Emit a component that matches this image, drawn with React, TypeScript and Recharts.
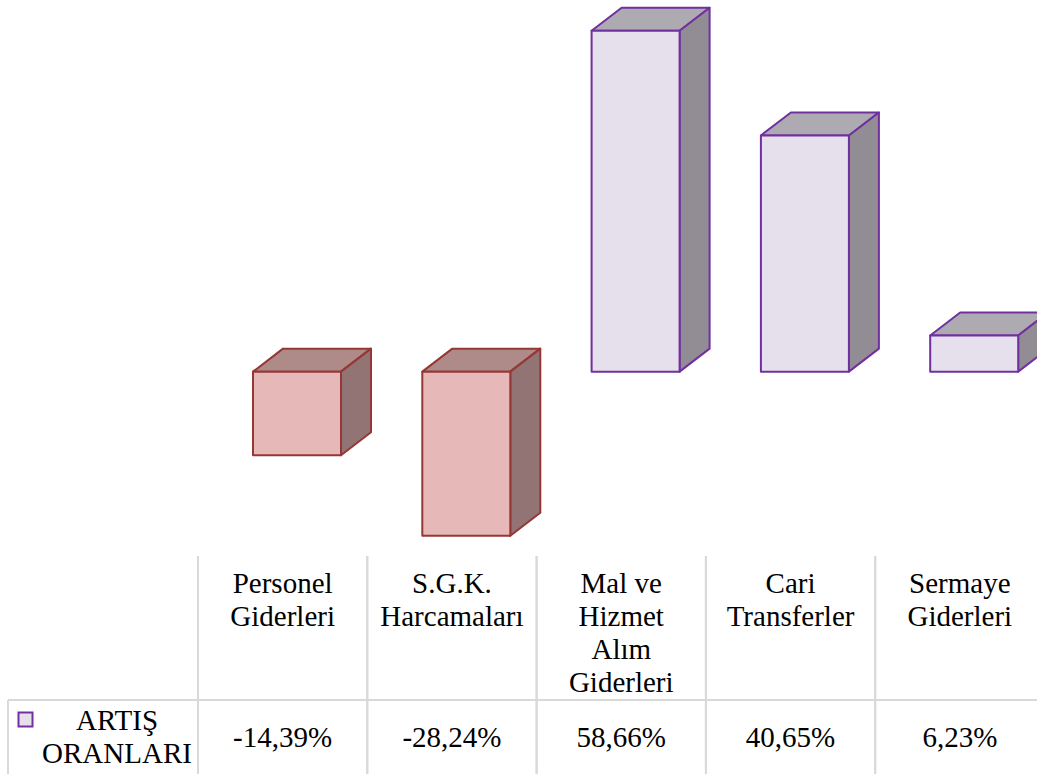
import React from "react";
import { Bar, BarChart, XAxis, YAxis } from "recharts";

const categories = [
  "Personel Giderleri",
  "S.G.K. Harcamaları",
  "Mal ve Hizmet Alım Giderleri",
  "Cari Transferler",
  "Sermaye Giderleri",
];
const headerLines = [
  ["Personel", "Giderleri"],
  ["S.G.K.", "Harcamaları"],
  ["Mal ve", "Hizmet", "Alım", "Giderleri"],
  ["Cari", "Transferler"],
  ["Sermaye", "Giderleri"],
];
const increaseRates = [-14.39, -28.24, 58.66, 40.65, 6.23];
const seriesName = ["ARTIŞ", "ORANLARI"];

const data = categories.map((name, i) => ({ name, rate: increaseRates[i] }));

const CHART_W = 1060;
const CHART_H = 774;
const LEFT = 198;
const RIGHT = 15.5;
const BAND = (CHART_W - LEFT - RIGHT) / categories.length;

const DEPTH_X = 30;
const DEPTH_Y = 23;
const SHIFT = 14;

const GRID = "#d9d9d9";
const textStyle = { fontFamily: "Liberation Serif", fontSize: 29, fill: "#000" };

const positive = { front: "#e6e0ec", top: "#aeaab2", side: "#928d95", edge: "#7030a0" };
const negative = { front: "#e6b8b7", top: "#ae8b89", side: "#917473", edge: "#953735" };

const fmt = (v: number) => v.toFixed(2).replace(".", ",") + "%";

function Box3D(props: any) {
  const { x, y, width, height, value } = props;
  const v = Array.isArray(value) ? value[1] - value[0] : value;
  const c = v < 0 ? negative : positive;
  const left = x + SHIFT;
  const right = left + width;
  const top = Math.min(y, y + height);
  const bottom = Math.max(y, y + height);
  const topFace = `${left},${top} ${left + DEPTH_X},${top - DEPTH_Y} ${right + DEPTH_X},${top - DEPTH_Y} ${right},${top}`;
  const sideFace = `${right},${top} ${right + DEPTH_X},${top - DEPTH_Y} ${right + DEPTH_X},${bottom - DEPTH_Y} ${right},${bottom}`;
  return (
    <g stroke={c.edge} strokeWidth={2} strokeLinejoin="round">
      <polygon points={topFace} fill={c.top} />
      <polygon points={sideFace} fill={c.side} />
      <rect x={left} y={top} width={width} height={bottom - top} fill={c.front} />
    </g>
  );
}

// one column of the data table under each category
function TableColumn(props: any) {
  const { x, payload, index } = props;
  const lines = headerLines[index] || [payload.value];
  const x0 = x - BAND / 2;
  const x1 = x + BAND / 2;
  return (
    <g>
      {index === 0 && (
        <g>
          <line x1={8} y1={700} x2={CHART_W} y2={700} stroke={GRID} strokeWidth={2} />
          <line x1={8} y1={700} x2={8} y2={CHART_H} stroke={GRID} strokeWidth={2} />
          <rect x={18.5} y={712.5} width={14} height={14} fill={positive.front} stroke={positive.edge} strokeWidth={2} />
          {seriesName.map((s, i) => (
            <text key={s} x={117} y={730 + i * 33} textAnchor="middle" style={textStyle}>
              {s}
            </text>
          ))}
        </g>
      )}
      <line x1={x0} y1={556} x2={x0} y2={CHART_H} stroke={GRID} strokeWidth={2} />
      <line x1={x1} y1={556} x2={x1} y2={CHART_H} stroke={GRID} strokeWidth={2} />
      {lines.map((l: string, i: number) => (
        <text key={i} x={x} y={593 + i * 33} textAnchor="middle" style={textStyle}>
          {l}
        </text>
      ))}
      <text x={x} y={747} textAnchor="middle" style={textStyle}>
        {fmt(increaseRates[index])}
      </text>
    </g>
  );
}

export default function App() {
  return (
    <div
      style={{
        position: "absolute",
        left: 0,
        top: 0,
        width: 1037,
        height: 774,
        overflow: "hidden",
        background: "#fff",
      }}
    >
      <BarChart
        width={CHART_W}
        height={CHART_H}
        data={data}
        margin={{ top: 23, right: RIGHT, left: LEFT, bottom: 0 }}
      >
        <XAxis
          dataKey="name"
          height={228}
          axisLine={false}
          tickLine={false}
          interval={0}
          tick={<TableColumn />}
        />
        <YAxis hide domain={[-30, 60]} />
        <Bar dataKey="rate" barSize={88} shape={<Box3D />} isAnimationActive={false} />
      </BarChart>
    </div>
  );
}
